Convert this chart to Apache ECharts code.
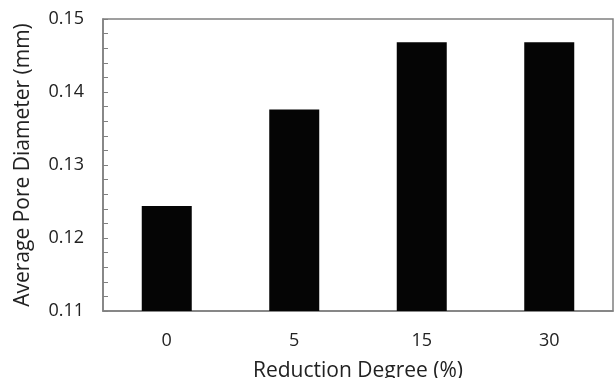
<!DOCTYPE html>
<html>
<head>
<meta charset="utf-8">
<script src="https://cdn.jsdelivr.net/npm/echarts@6/dist/echarts.min.js"></script>
<style>html,body{margin:0;padding:0;background:#fff}#c{width:614px;height:378px}</style>
</head>
<body>
<div id="c"></div>
<script>
const categories = ['0', '5', '15', '30'];
const poreDiameter = [0.1244, 0.1376, 0.1468, 0.1468];
const xTitle = 'Reduction Degree (%)';
const yTitle = 'Average Pore Diameter (mm)';

const chart = echarts.init(document.getElementById('c'));
const font = '"Open Sans", sans-serif';
chart.setOption({
  animation: false,
  grid: { left: 103, right: 1, top: 19, bottom: 67, show: true, borderColor: '#808080', borderWidth: 1.5,
    containLabel: false, outerBoundsMode: 'none' },
  xAxis: {
    type: 'category', data: categories,
    name: xTitle, nameLocation: 'middle', nameGap: 50,
    nameTextStyle: { fontFamily: font, fontSize: 21, color: '#222' },
    axisLine: { lineStyle: { color: '#808080', width: 1.5 } },
    axisTick: { show: false },
    axisLabel: { fontFamily: font, fontSize: 18, color: '#222', margin: 21 }
  },
  yAxis: {
    type: 'value', min: 0.11, max: 0.15, interval: 0.01,
    name: yTitle, nameLocation: 'middle', nameGap: 69,
    nameTextStyle: { fontFamily: font, fontSize: 21, color: '#222' },
    axisLine: { show: true, lineStyle: { color: '#808080', width: 1.5 } },
    axisTick: { show: true, inside: true, length: 5, lineStyle: { color: '#808080' } },
    minorTick: { show: true, splitNumber: 5, length: 5, lineStyle: { color: '#808080' } },
    splitLine: { show: false },
    axisLabel: { fontFamily: font, fontSize: 18, color: '#222', margin: 19,
      formatter: v => v.toFixed(2) }
  },
  series: [{
    type: 'bar', data: poreDiameter, barWidth: 50,
    itemStyle: { color: '#050505' }
  }]
});
</script>
</body>
</html>
